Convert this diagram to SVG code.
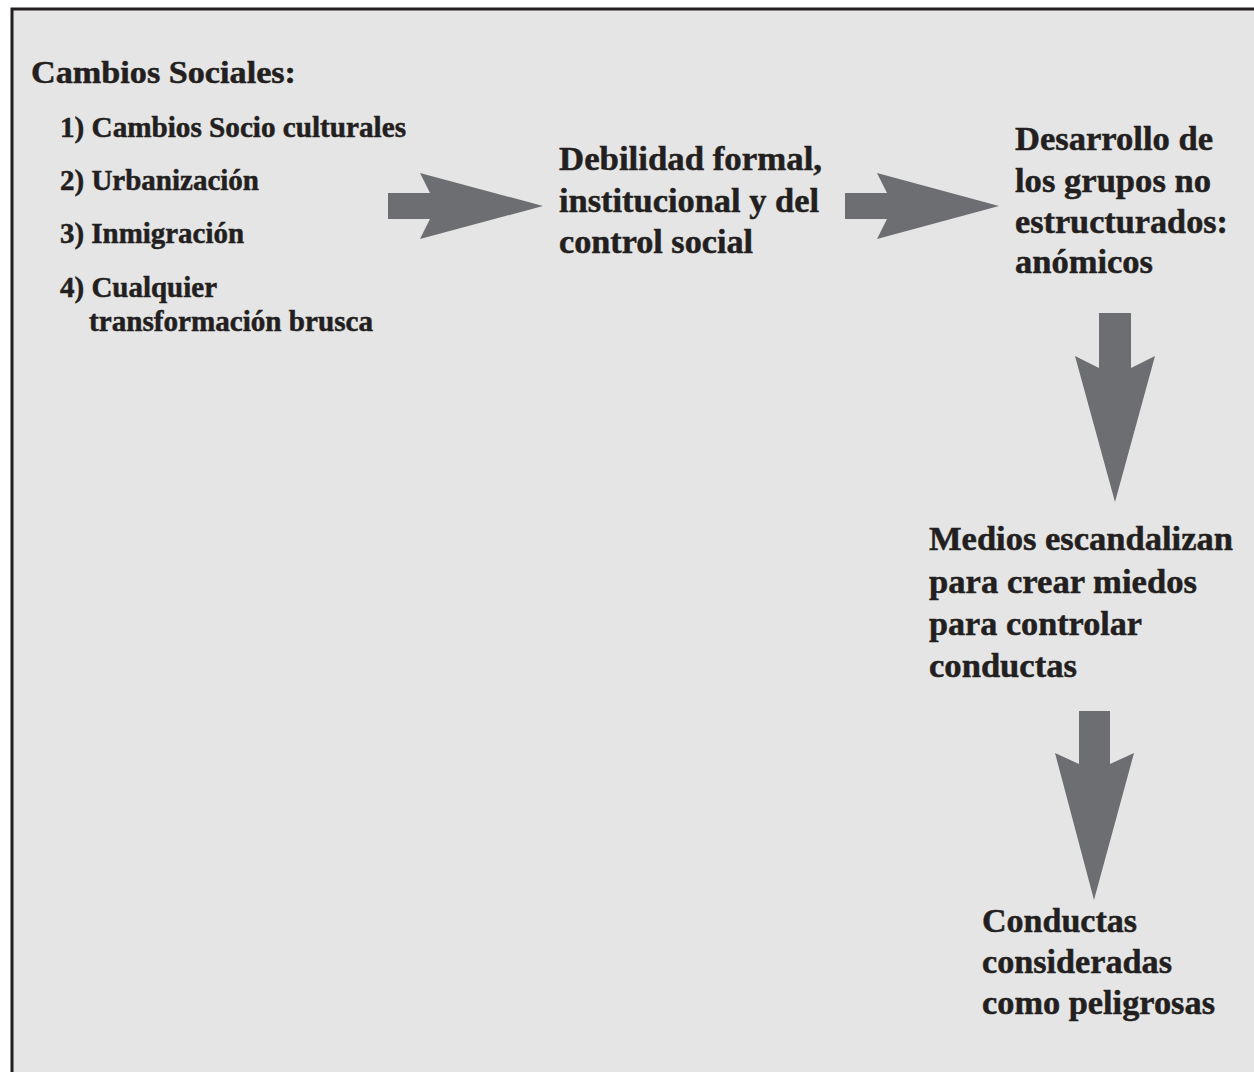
<svg xmlns="http://www.w3.org/2000/svg" width="1254" height="1072" viewBox="0 0 1254 1072">
<style>
.big{font-size:34.5px}
.item{font-size:29px}
.title{font-size:32px}
.arr{fill:#6d6e71}
</style>
<rect x="0" y="0" width="1254" height="1072" fill="#ffffff"/>
<rect x="12" y="9" width="1252" height="1073" fill="#e5e5e5" stroke="#231f20" stroke-width="3"/>
<g id="connectors">
<polygon class="arr" points="388,193 430,193 420,173 543,206 420,239 430,219 388,219"/>
<polygon class="arr" points="845,193 887,193 877,173 999,206 877,239 887,219 845,219"/>
<polygon class="arr" points="1099,313 1131,313 1131,368 1155,356 1115,502 1075,356 1099,368"/>
<polygon class="arr" points="1079,711 1110,711 1110,764 1134,753 1094,900 1055,753 1079,764"/>
</g>
<g font-family="Liberation Serif, Times New Roman, serif" font-weight="700" fill="#231f20" stroke="#231f20" stroke-width="0.5">
<g id="node-cambios">
<text class="title" x="31" y="83" textLength="265" lengthAdjust="spacingAndGlyphs">Cambios Sociales:</text>
<text class="item" x="60" y="137" textLength="346" lengthAdjust="spacingAndGlyphs">1) Cambios Socio culturales</text>
<text class="item" x="60" y="190" textLength="199" lengthAdjust="spacingAndGlyphs">2) Urbanización</text>
<text class="item" x="60" y="243" textLength="184" lengthAdjust="spacingAndGlyphs">3) Inmigración</text>
<text class="item" x="60" y="297" textLength="157" lengthAdjust="spacingAndGlyphs">4) Cualquier</text>
<text class="item" x="89" y="331" textLength="284" lengthAdjust="spacingAndGlyphs">transformación brusca</text>
</g>
<g id="node-debilidad">
<text class="big" x="559" y="170" textLength="263" lengthAdjust="spacingAndGlyphs">Debilidad formal,</text>
<text class="big" x="559" y="212" textLength="260" lengthAdjust="spacingAndGlyphs">institucional y del</text>
<text class="big" x="559" y="253" textLength="194" lengthAdjust="spacingAndGlyphs">control social</text>
</g>
<g id="node-desarrollo">
<text class="big" x="1015" y="150" textLength="198" lengthAdjust="spacingAndGlyphs">Desarrollo de</text>
<text class="big" x="1015" y="192" textLength="196" lengthAdjust="spacingAndGlyphs">los grupos no</text>
<text class="big" x="1015" y="233" textLength="213" lengthAdjust="spacingAndGlyphs">estructurados:</text>
<text class="big" x="1015" y="273" textLength="138" lengthAdjust="spacingAndGlyphs">anómicos</text>
</g>
<g id="node-medios">
<text class="big" x="929" y="550" textLength="304" lengthAdjust="spacingAndGlyphs">Medios escandalizan</text>
<text class="big" x="929" y="593" textLength="268" lengthAdjust="spacingAndGlyphs">para crear miedos</text>
<text class="big" x="929" y="635" textLength="213" lengthAdjust="spacingAndGlyphs">para controlar</text>
<text class="big" x="929" y="677" textLength="148" lengthAdjust="spacingAndGlyphs">conductas</text>
</g>
<g id="node-conductas">
<text class="big" x="982" y="932" textLength="155" lengthAdjust="spacingAndGlyphs">Conductas</text>
<text class="big" x="982" y="973" textLength="190" lengthAdjust="spacingAndGlyphs">consideradas</text>
<text class="big" x="982" y="1014" textLength="233" lengthAdjust="spacingAndGlyphs">como peligrosas</text>
</g>
</g>
</svg>
